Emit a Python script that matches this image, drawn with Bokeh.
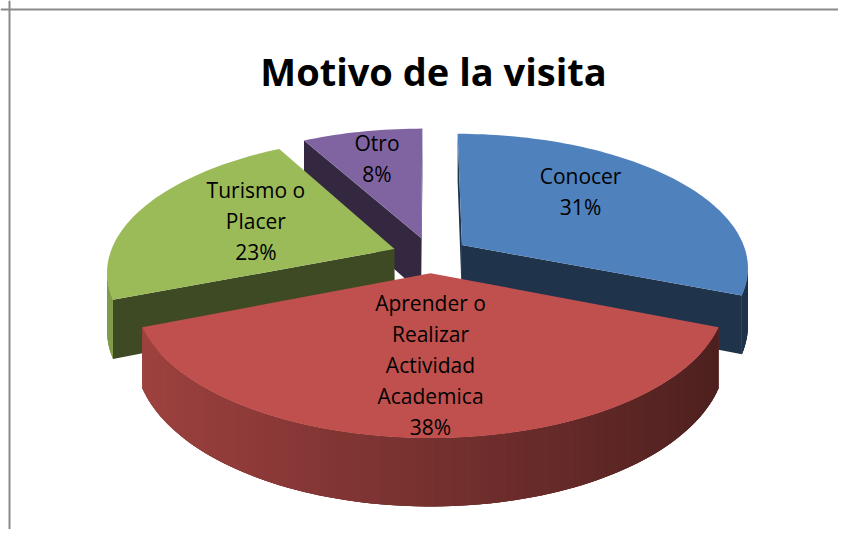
import textwrap
import numpy as np
from bokeh.plotting import figure
from bokeh.models import Range1d, Span, ColumnDataSource
from bokeh.core.properties import value
from bokeh.embed import file_html
from bokeh.resources import INLINE

# ---- data ----
title_text = "Motivo de la visita"
categories = ["Conocer", "Aprender o Realizar Actividad Academica", "Turismo o Placer", "Otro"]
values = [31, 38, 23, 8]
top_colors = ["#4F81BD", "#C0504D", "#9BBB59", "#8064A2"]

# ---- layout / style ----
W, H = 838, 529
CX, CY = 430.0, 254.5      # pie centre (picture pixels)
RX, RY = 285.0, 132.0      # ellipse radii
PERSP = 0.16               # perspective strength
DEPTH = 56.0               # thickness of the pie
EXPLODE = 0.135            # explosion distance (fraction of radius)
label_rho = [0.64, 0.60, 0.56, 0.72]
label_dtheta = [-10.0, 0.0, 4.0, 0.0]
LINE_SP = 31.0
FONT = "Open Sans"


def proj(x, y, z=0.0):
    s = 1.0 / (1.0 + PERSP * y)
    return CX + RX * x * s, CY - RY * y * s + z * DEPTH * s


def shade(hexcol, f):
    h = hexcol.lstrip("#")
    r, g, b = (int(h[i:i + 2], 16) for i in (0, 2, 4))
    return "#%02x%02x%02x" % (int(r * f), int(g * f), int(b * f))


def area(pts):
    a = 0.0
    for i in range(len(pts)):
        x1, y1 = pts[i]
        x2, y2 = pts[(i + 1) % len(pts)]
        a += x1 * y2 - x2 * y1
    return a / 2.0


def face(t1, t2):
    p1 = proj(*t1)
    p2 = proj(*t2)
    q2 = proj(t2[0], t2[1], 1.0)
    q1 = proj(t1[0], t1[1], 1.0)
    return [p1, p2, q2, q1]


ref = face((np.sin(np.radians(179)), np.cos(np.radians(179))),
           (np.sin(np.radians(181)), np.cos(np.radians(181))))
REF_SIGN = np.sign(area(ref))

total = float(sum(values))
cum = np.concatenate([[0.0], np.cumsum(values)]) / total * 360.0

slices = []
for i, v in enumerate(values):
    a, b = cum[i], cum[i + 1]
    mid = np.radians((a + b) / 2.0)
    ox, oy = EXPLODE * np.sin(mid), EXPLODE * np.cos(mid)
    slices.append((oy, i, a, b, ox))

xs, ys, fills = [], [], []
for oy, i, a, b, ox in sorted(slices, key=lambda t: -t[0]):
    n = max(3, int((b - a) / 1.5) + 1)
    th = np.radians(np.linspace(a, b, n))
    arc = [(ox + np.sin(t), oy + np.cos(t)) for t in th]
    C = (ox, oy)
    # radial walls
    for t1, t2 in [(C, arc[0]), (arc[-1], C)]:
        quad = face(t1, t2)
        if np.sign(area(quad)) == REF_SIGN and abs(area(quad)) > 1e-6:
            xs.append([q[0] for q in quad]); ys.append([q[1] for q in quad])
            fills.append(shade(top_colors[i], 0.40))
    # curved outer side
    vis = []
    for k in range(n - 1):
        quad = face(arc[k], arc[k + 1])
        if np.sign(area(quad)) == REF_SIGN and abs(area(quad)) > 1e-6:
            vis.append(k)
    if vis:
        # base band underneath (hides seams between gradient strips)
        ks = list(range(vis[0], vis[-1] + 2))
        topb = [proj(*arc[k]) for k in ks]
        botb = [proj(arc[k][0], arc[k][1], 1.0) for k in ks][::-1]
        band = topb + botb
        tmid = (th[vis[0]] + th[vis[-1] + 1]) / 2.0
        xs.append([q[0] for q in band]); ys.append([q[1] for q in band])
        fills.append(shade(top_colors[i], 0.615 - 0.23 * np.sin(tmid)))
        for k in vis:
            k2 = min(k + 2, n - 1)
            quad = face(arc[k], arc[k2]) if k2 - 1 in vis else face(arc[k], arc[k + 1])
            tm = (th[k] + th[k + 1]) / 2.0
            f = 0.615 - 0.23 * np.sin(tm)
            xs.append([q[0] for q in quad]); ys.append([q[1] for q in quad])
            fills.append(shade(top_colors[i], f))
    top = [proj(*p) for p in [C] + arc]
    xs.append([q[0] for q in top]); ys.append([q[1] for q in top])
    fills.append(top_colors[i])

p = figure(width=W, height=H, output_backend="svg", toolbar_location=None,
           x_range=Range1d(0, W), y_range=Range1d(H, 0), min_border=0)
p.axis.visible = False
p.grid.visible = False
p.outline_line_color = None
p.background_fill_color = "white"
p.border_fill_color = "white"

src = ColumnDataSource(dict(xs=xs, ys=ys, fill=fills))
p.patches("xs", "ys", source=src, fill_color="fill", line_color=None)

# chart border (left and top visible)
p.add_layout(Span(location=9, dimension="height", line_color="#8a8a8a", line_width=2))
p.add_layout(Span(location=9, dimension="width", line_color="#8a8a8a", line_width=2))

# labels
lx, ly, lt = [], [], []
for i, cat in enumerate(categories):
    lines = textwrap.wrap(cat, width=10) + ["%d%%" % round(values[i] / total * 100)]
    a, b = cum[i], cum[i + 1]
    mid = np.radians((a + b) / 2.0)
    ox, oy = EXPLODE * np.sin(mid), EXPLODE * np.cos(mid)
    ang = mid + np.radians(label_dtheta[i])
    px, py = proj(ox + label_rho[i] * np.sin(ang), oy + label_rho[i] * np.cos(ang))
    nl = len(lines)
    for j, line in enumerate(lines):
        lx.append(px)
        ly.append(py + (j - (nl - 1) / 2.0) * LINE_SP)
        lt.append(line)
p.text(x=lx, y=ly, text=lt, text_font=value(FONT), text_font_size="21px",
       text_align="center", text_baseline="middle", text_color="black")

p.text(x=[433], y=[70], text=[title_text], text_font=value(FONT), text_font_size="38px",
       text_font_style="bold", text_align="center", text_baseline="alphabetic", text_color="black")

open("out.html", "w").write(file_html(p, INLINE))
